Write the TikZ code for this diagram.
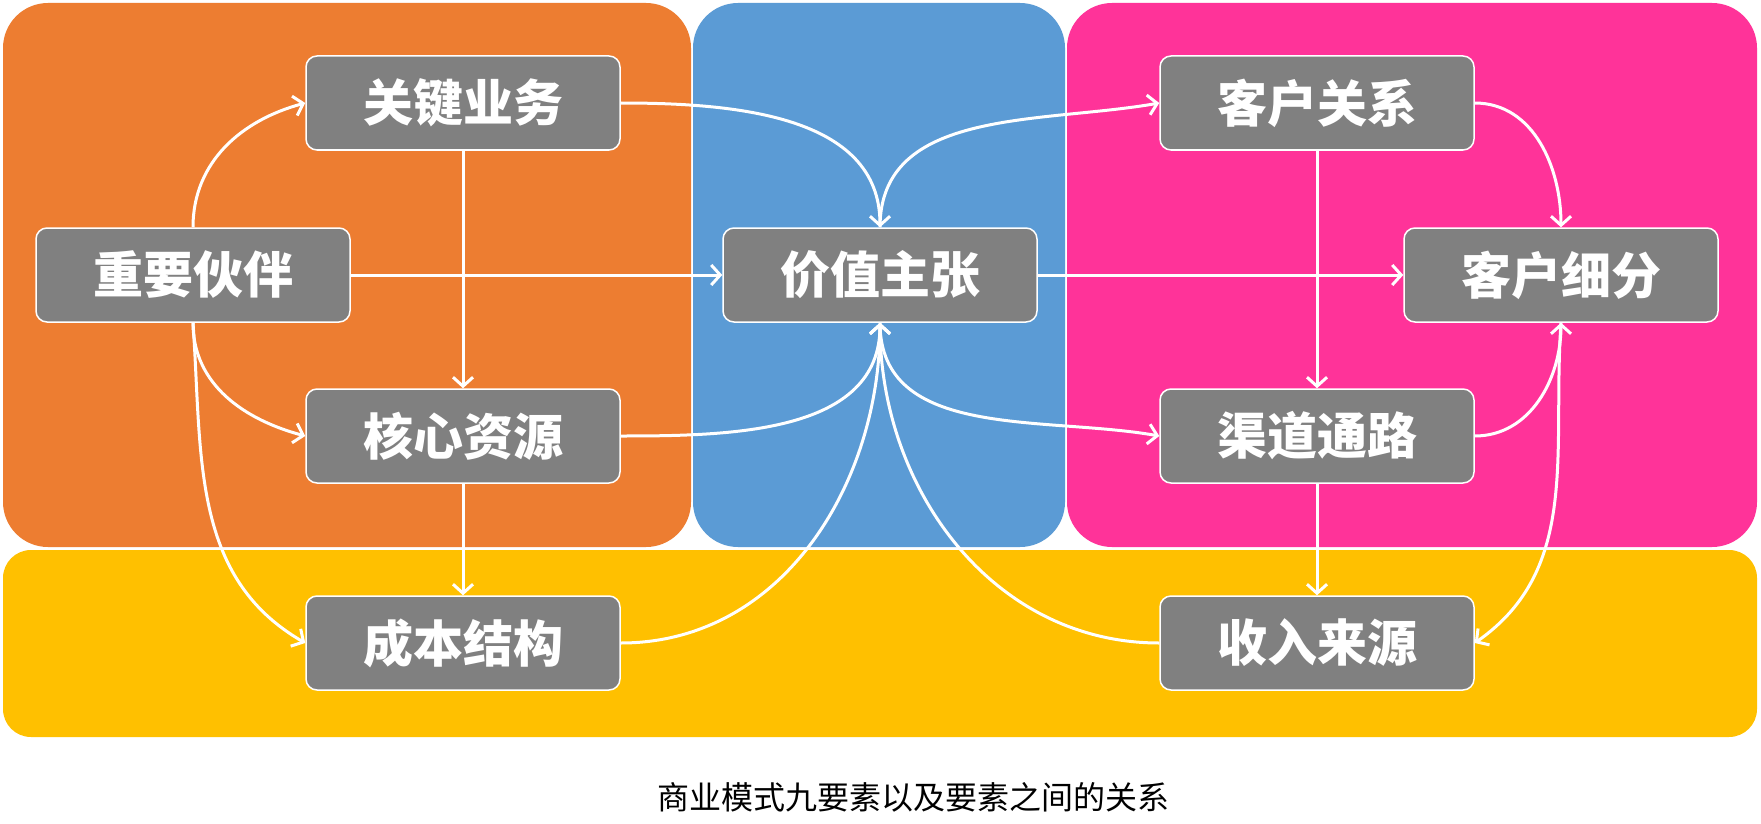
\documentclass[tikz,border=0pt]{standalone}
\usepackage{fontspec}
\newfontfamily\cjk{Noto Sans CJK SC}
\usetikzlibrary{arrows.meta}
\definecolor{orangeC}{HTML}{ED7D31}
\definecolor{blueC}{HTML}{5B9BD5}
\definecolor{pinkC}{HTML}{FF3399}
\definecolor{yellowC}{HTML}{FFC000}
\definecolor{boxgray}{HTML}{808080}
\tikzset{
  region/.style={rounded corners=45pt},
  box/.style={rectangle, rounded corners=11pt, fill=boxgray, draw=white, line width=1.5pt,
    minimum width=314pt, minimum height=94pt, inner sep=0pt, text=white,
    font=\cjk\bfseries\fontsize{50}{50}\selectfont},
  conn/.style={draw=white, line width=3pt, -{Straight Barb[length=9pt,width=20pt]}},
}
\begin{document}
\begin{tikzpicture}[x=1pt,y=1pt]
\useasboundingbox[fill=white] (0,0) rectangle (1761,-824);
% regions
\fill[orangeC, region] (3,-3) rectangle (691,-547);
\fill[blueC, region] (693,-3) rectangle (1065,-547);
\fill[pinkC, region] (1067,-3) rectangle (1757,-547);
\fill[yellowC, rounded corners=28pt] (3,-550) rectangle (1757,-737);
% nodes
\node[box] (kp) at (193,-275) {重要伙伴};
\node[box] (ka) at (463,-103) {关键业务};
\node[box] (kr) at (463,-436) {核心资源};
\node[box] (cs) at (463,-643) {成本结构};
\node[box] (vp) at (880,-275) {价值主张};
\node[box] (cr) at (1317,-103) {客户关系};
\node[box] (seg) at (1561,-275) {客户细分};
\node[box] (ch) at (1317,-436) {渠道通路};
\node[box] (rs) at (1317,-643) {收入来源};
% connectors
\draw[conn] (kp.north) to[out=90,in=195] (ka.west);
\draw[conn] (kp.south) to[out=-90,in=165] (kr.west);
\draw[conn] (kp.south) to[out=-86,in=150] (cs.west);
\draw[conn] (kp.east) -- (vp.west);
\draw[conn] (ka.south) -- (kr.north);
\draw[conn] (kr.south) -- (cs.north);
\draw[conn] (ka.east) to[out=0,in=90] (vp.north);
\draw[conn] (vp.north) to[out=90,in=190] (cr.west);
\draw[conn] (kr.east) to[out=0,in=-90] (vp.south);
\draw[conn] (cs.east) to[out=0,in=-90] (vp.south);
\draw[conn] (rs.west) to[out=180,in=-90] (vp.south);
\draw[conn] (vp.south) to[out=-90,in=170] (ch.west);
\draw[conn] (vp.east) -- (seg.west);
\draw[conn] (cr.east) to[out=0,in=90] (seg.north);
\draw[conn] (ch.east) to[out=0,in=-90] (seg.south);
\draw[conn] (seg.south) to[out=-94,in=35] (rs.east);
\draw[conn] (cr.south) -- (ch.north);
\draw[conn] (ch.south) -- (rs.north);
% caption
\node[font=\cjk\fontsize{32}{32}\selectfont, text=black] (cap) at (913,-797) {商业模式九要素以及要素之间的关系};
\end{tikzpicture}
\end{document}
